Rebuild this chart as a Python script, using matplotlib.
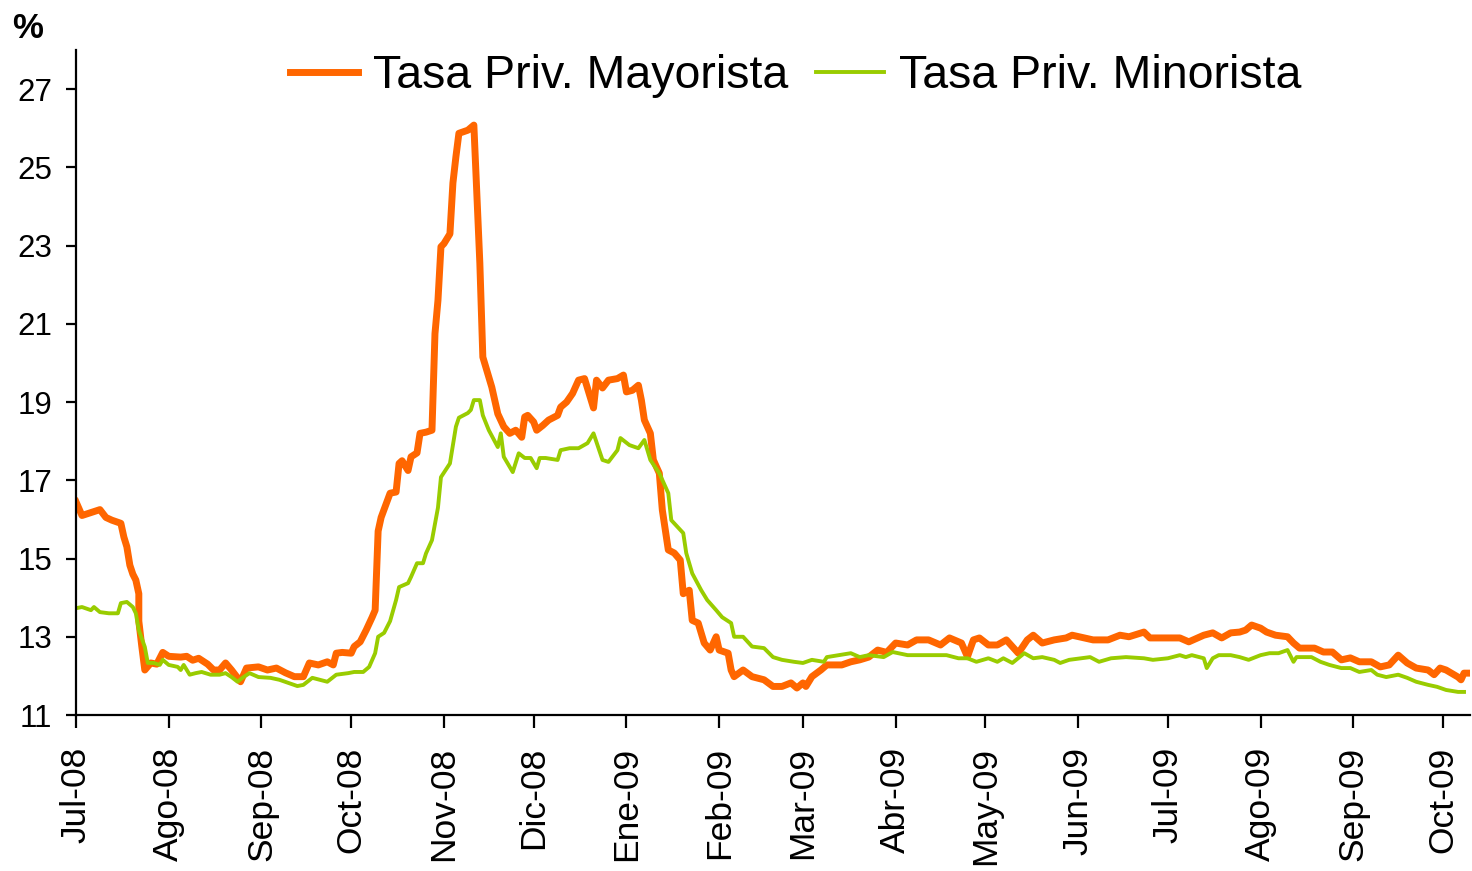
import matplotlib
matplotlib.use("Agg")
import matplotlib.pyplot as plt
import pandas as pd

# días desde el 1-jul-2008 y tasas (%)
dias_may = [0, 2, 6, 8, 10, 12, 15, 16, 17, 18, 19, 20, 21, 21, 22, 23, 25, 27, 29, 31,
            35, 37, 39, 41, 44, 46, 48, 50, 52, 55, 57, 61, 64, 67, 70, 73, 76, 78, 81, 84,
            86, 87, 89, 92, 93, 95, 97, 99, 100, 101, 102, 105, 107, 108, 109, 111, 112, 114, 115, 117,
            119, 120, 121, 122, 123, 125, 126, 127, 128, 131, 133, 134, 135, 136, 139, 141, 143, 145, 147, 149,
            150, 151, 153, 154, 156, 158, 161, 162, 164, 166, 168, 170, 173, 174, 176, 178, 181, 183, 184, 186,
            188, 189, 190, 192, 193, 195, 196, 198, 200, 202, 203, 205, 206, 208, 210, 212, 214, 215, 218, 219,
            220, 223, 226, 230, 233, 236, 239, 241, 243, 244, 246, 249, 251, 253, 256, 259, 262, 265, 268, 271,
            274, 278, 281, 285, 289, 292, 296, 298, 300, 302, 305, 308, 311, 315, 318, 320, 323, 327, 331, 333,
            337, 340, 345, 349, 352, 357, 359, 363, 369, 372, 377, 380, 383, 386, 389, 391, 393, 396, 398, 401,
            405, 407, 409, 414, 417, 420, 423, 426, 429, 433, 436, 439, 442, 445, 448, 452, 454, 456, 458, 462,
            463, 464, 466]
tasa_may = [16.45, 16.1, 16.2, 16.25, 16.05, 15.98, 15.9, 15.55, 15.3, 14.83, 14.6, 14.45, 14.1, 13.4, 12.75, 12.15, 12.33, 12.3, 12.6, 12.5,
            12.48, 12.5, 12.4, 12.45, 12.3, 12.15, 12.15, 12.33, 12.15, 11.85, 12.2, 12.23, 12.15, 12.2, 12.08, 11.98, 11.98, 12.33, 12.28, 12.36,
            12.28, 12.58, 12.6, 12.58, 12.75, 12.87, 13.17, 13.5, 13.68, 15.7, 16.05, 16.67, 16.7, 17.43, 17.5, 17.25, 17.6, 17.7, 18.2, 18.23,
            18.28, 20.75, 21.6, 22.97, 23.05, 23.3, 24.6, 25.27, 25.87, 25.95, 26.08, 24.34, 22.55, 20.15, 19.38, 18.7, 18.37, 18.2, 18.28, 18.1,
            18.62, 18.66, 18.49, 18.28, 18.4, 18.54, 18.66, 18.87, 19.0, 19.22, 19.56, 19.6, 18.85, 19.56, 19.36, 19.56, 19.6, 19.69, 19.26, 19.3,
            19.43, 19.05, 18.54, 18.2, 17.52, 17.18, 16.24, 15.22, 15.14, 14.96, 14.1, 14.19, 13.42, 13.35, 12.84, 12.66, 13.0, 12.66, 12.58, 12.15,
            11.98, 12.15, 11.98, 11.9, 11.73, 11.73, 11.82, 11.69, 11.82, 11.73, 11.98, 12.15, 12.28, 12.28, 12.28, 12.36, 12.41, 12.48, 12.66, 12.6,
            12.84, 12.79, 12.92, 12.92, 12.79, 12.97, 12.84, 12.49, 12.92, 12.97, 12.79, 12.79, 12.92, 12.58, 12.92, 13.04, 12.84, 12.92, 12.97, 13.04,
            12.97, 12.92, 12.92, 13.04, 13.0, 13.12, 12.97, 12.97, 12.97, 12.87, 13.04, 13.1, 12.97, 13.1, 13.12, 13.17, 13.3, 13.22, 13.12, 13.04,
            13.0, 12.84, 12.71, 12.71, 12.61, 12.61, 12.41, 12.46, 12.36, 12.36, 12.23, 12.28, 12.53, 12.33, 12.2, 12.15, 12.03, 12.2, 12.15, 11.97,
            11.9, 12.07, 12.07]

dias_min = [0, 2, 5, 6, 8, 11, 14, 15, 17, 19, 20, 21, 23, 24, 26, 28, 29, 31, 34, 35,
            36, 38, 40, 42, 45, 48, 50, 52, 54, 56, 58, 61, 65, 68, 71, 74, 76, 79, 84, 87,
            91, 93, 96, 98, 100, 101, 103, 105, 107, 108, 111, 112, 114, 116, 117, 119, 121, 122, 125, 127,
            128, 131, 132, 133, 135, 136, 138, 141, 142, 143, 146, 148, 150, 152, 154, 155, 157, 161, 162, 165,
            168, 171, 173, 176, 178, 181, 182, 185, 188, 190, 192, 195, 198, 199, 203, 204, 206, 209, 211, 214,
            216, 219, 220, 223, 226, 230, 233, 236, 240, 243, 246, 250, 251, 255, 259, 262, 265, 270, 273, 278,
            282, 286, 291, 295, 298, 301, 305, 308, 310, 313, 317, 320, 323, 327, 329, 332, 336, 339, 342, 346,
            351, 357, 360, 365, 369, 371, 373, 377, 378, 380, 382, 386, 389, 392, 396, 399, 402, 405, 407, 408,
            413, 416, 419, 423, 426, 429, 433, 435, 438, 442, 445, 448, 452, 455, 458, 462, 464]
tasa_min = [13.73, 13.76, 13.68, 13.76, 13.63, 13.6, 13.6, 13.86, 13.89, 13.76, 13.6, 13.17, 12.74, 12.33, 12.33, 12.28, 12.41, 12.28, 12.23, 12.15,
            12.28, 12.03, 12.07, 12.1, 12.03, 12.03, 12.07, 11.97, 11.85, 11.97, 12.07, 11.97, 11.95, 11.9, 11.82, 11.74, 11.77, 11.95, 11.85, 12.03,
            12.07, 12.1, 12.1, 12.23, 12.58, 13.0, 13.1, 13.4, 13.94, 14.27, 14.37, 14.53, 14.88, 14.88, 15.13, 15.47, 16.3, 17.08, 17.43, 18.37,
            18.6, 18.72, 18.8, 19.05, 19.05, 18.66, 18.28, 17.85, 18.2, 17.6, 17.21, 17.69, 17.57, 17.57, 17.31, 17.57, 17.57, 17.52, 17.77, 17.82,
            17.82, 17.95, 18.2, 17.52, 17.47, 17.77, 18.08, 17.9, 17.82, 18.03, 17.52, 17.18, 16.67, 15.98, 15.65, 15.14, 14.62, 14.19, 13.94, 13.68,
            13.5, 13.35, 13.0, 13.0, 12.75, 12.71, 12.48, 12.41, 12.36, 12.33, 12.41, 12.36, 12.48, 12.53, 12.58, 12.48, 12.53, 12.48, 12.61, 12.53,
            12.53, 12.53, 12.53, 12.45, 12.45, 12.36, 12.45, 12.36, 12.45, 12.33, 12.58, 12.45, 12.48, 12.41, 12.33, 12.41, 12.45, 12.48, 12.36, 12.45,
            12.48, 12.45, 12.41, 12.45, 12.53, 12.48, 12.53, 12.45, 12.2, 12.45, 12.53, 12.53, 12.48, 12.41, 12.53, 12.58, 12.58, 12.66, 12.36, 12.48,
            12.48, 12.36, 12.28, 12.2, 12.2, 12.1, 12.15, 12.03, 11.97, 12.03, 11.95, 11.85, 11.77, 11.72, 11.64, 11.59, 11.59]

meses = ["Jul-08", "Ago-08", "Sep-08", "Oct-08", "Nov-08", "Dic-08", "Ene-09", "Feb-09",
         "Mar-09", "Abr-09", "May-09", "Jun-09", "Jul-09", "Ago-09", "Sep-09", "Oct-09"]
y_ticks = [11, 13, 15, 17, 19, 21, 23, 25, 27]

plt.rcParams['font.family'] = ['Liberation Sans', 'DejaVu Sans']

inicio = pd.Timestamp("2008-07-01")
x_may = inicio + pd.to_timedelta(dias_may, unit="D")
x_min = inicio + pd.to_timedelta(dias_min, unit="D")

fig = plt.figure(figsize=(14.72, 8.71), dpi=100)
ax = fig.add_axes([76 / 1472, 1 - 715 / 871, (1470 - 76) / 1472, (715 - 50) / 871])

ax.plot(x_may, tasa_may, color="#FF6600", lw=5, label="Tasa Priv. Mayorista")
ax.plot(x_min, tasa_min, color="#99CC00", lw=2.8, label="Tasa Priv. Minorista")

ax.set_ylim(11, 28)
ax.set_yticks(y_ticks)
ax.set_xlim(inicio, inicio + pd.Timedelta(days=466))
ax.set_xticks(pd.date_range("2008-07-01", "2009-10-01", freq="MS"))
ax.set_xticklabels(meses, rotation=90)

for s in ["top", "right"]:
    ax.spines[s].set_visible(False)
for s in ["left", "bottom"]:
    ax.spines[s].set_linewidth(1.6)
ax.tick_params(axis="x", direction="out", length=9, width=1.6, labelsize=25.5, pad=14)
ax.tick_params(axis="y", direction="out", length=7, width=1.6, labelsize=22.5, pad=10)

fig.text(12 / 1472, 1 - 38 / 871, "%", fontsize=25, fontweight="bold")

ax.legend(loc="center left", bbox_to_anchor=(290 / 1472, 1 - 76 / 871),
          bbox_transform=fig.transFigure, ncol=2, frameon=False, fontsize=33.5,
          handlelength=1.46, handletextpad=0.32, columnspacing=0.6, borderaxespad=0,
          borderpad=0)

fig.savefig("out.png", dpi=100)
